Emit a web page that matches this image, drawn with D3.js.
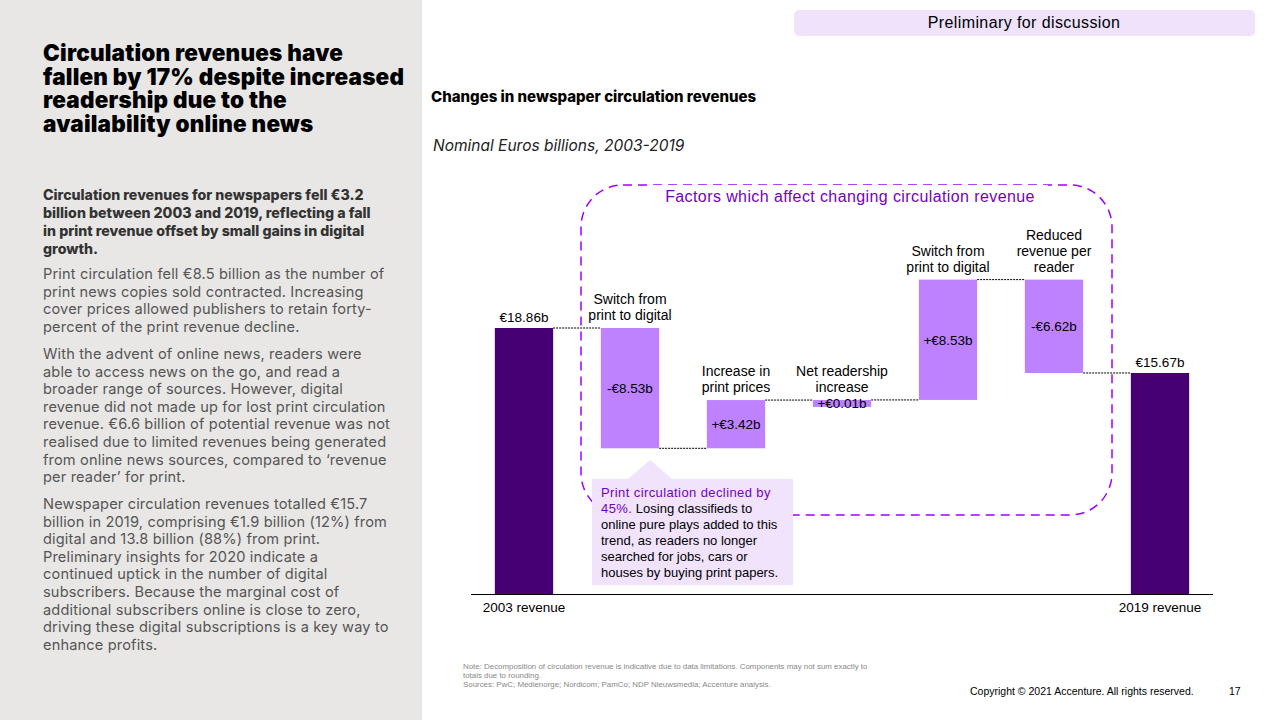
<!DOCTYPE html>
<html><head><meta charset="utf-8">
<script src="https://cdn.jsdelivr.net/npm/d3@7"></script>
<style>
body{margin:0;font-family:Arial,"Liberation Sans",sans-serif;}
svg{display:block}
</style></head>
<body><svg width="1280" height="720"></svg>
<script>
// waterfall data
const steps = ["2003 revenue", "Switch from print to digital (print)", "Increase in print prices", "Net readership increase", "Switch from print to digital", "Reduced revenue per reader", "2019 revenue"];
const stepLabels = [[], ["Switch from", "print to digital"], ["Increase in", "print prices"], ["Net readership", "increase"], ["Switch from", "print to digital"], ["Reduced", "revenue per", "reader"], []];
const deltas = [18.86, -8.53, 3.42, 0.01, 8.53, -6.62, 15.67];
const valueLabels = ["€18.86b", "-€8.53b", "+€3.42b", "+€0.01b", "+€8.53b", "-€6.62b", "€15.67b"];
const totals = [true, false, false, false, false, false, true];

const svg = d3.select("svg");
const purpleDark = "#460073", purpleLight = "#be82ff";

// left panel
svg.append("rect").attr("width", 422).attr("height", 720).attr("fill", "#e8e7e5");
const title = ["Circulation revenues have", "fallen by 17% despite increased", "readership due to the", "availability online news"];
svg.append("text").attr("font-family", "Inter").attr("font-weight", 900).attr("font-size", 22.5).attr("letter-spacing", 0.2).attr("fill", "#000")
  .selectAll("tspan").data(title).join("tspan").attr("x", 43).attr("y", (d, i) => 61 + i * 23.5).text(d => d);
const lead = ["Circulation revenues for newspapers fell €3.2", "billion between 2003 and 2019, reflecting a fall", "in print revenue offset by small gains in digital", "growth."];
svg.append("text").attr("font-family", "Inter").attr("font-weight", 800).attr("font-size", 14.2).attr("fill", "#333")
  .selectAll("tspan").data(lead).join("tspan").attr("x", 43).attr("y", (d, i) => 200 + i * 18).text(d => d);
const paras = [
  [279, ["Print circulation fell €8.5 billion as the number of", "print news copies sold contracted. Increasing", "cover prices allowed publishers to retain forty-", "percent of the print revenue decline."]],
  [359, ["With the advent of online news, readers were", "able to access news on the go, and read a", "broader range of sources. However, digital", "revenue did not made up for lost print circulation", "revenue. €6.6 billion of potential revenue was not", "realised due to limited revenues being generated", "from online news sources, compared to ‘revenue", "per reader’ for print."]],
  [509, ["Newspaper circulation revenues totalled €15.7", "billion in 2019, comprising €1.9 billion (12%) from", "digital and 13.8 billion (88%) from print.", "Preliminary insights for 2020 indicate a", "continued uptick in the number of digital", "subscribers. Because the marginal cost of", "additional subscribers online is close to zero,", "driving these digital subscriptions is a key way to", "enhance profits."]]
];
paras.forEach(([y0, lines]) => {
  svg.append("text").attr("font-family", "Inter").attr("font-size", 14.6).attr("letter-spacing", 0.15).attr("fill", "#555")
    .selectAll("tspan").data(lines).join("tspan").attr("x", 43).attr("y", (d, i) => y0 + i * 17.6).text(d => d);
});

// header pill
svg.append("rect").attr("x", 794).attr("y", 10).attr("width", 461).attr("height", 26).attr("rx", 5).attr("fill", "#efe3fb");
svg.append("text").attr("x", 1024).attr("y", 28).attr("text-anchor", "middle").attr("font-size", 16).attr("letter-spacing", 0.4).attr("fill", "#000").text("Preliminary for discussion");

svg.append("text").attr("x", 431).attr("y", 102).attr("font-family", "Inter").attr("font-weight", 800).attr("font-size", 15).text("Changes in newspaper circulation revenues");
svg.append("text").attr("x", 433).attr("y", 151).attr("font-family", "Inter").attr("font-style", "italic").attr("font-size", 15.5).attr("fill", "#222").text("Nominal Euros billions, 2003-2019");

// scales
const x = d3.scaleBand().domain(steps).range([471, 1213]).paddingInner(0.45).paddingOuter(0.225);
const y = d3.scaleLinear().domain([0, 18.86]).range([594, 328]);

let run = 0;
const bars = steps.map((s, i) => {
  let lo, hi;
  if (totals[i]) { lo = 0; hi = deltas[i]; run = deltas[i]; }
  else { const prev = run; run += deltas[i]; lo = Math.min(prev, run); hi = Math.max(prev, run); }
  return { s, i, lo, hi, end: run };
});

// dashed factor box
svg.append("rect").attr("x", 581).attr("y", 185).attr("width", 531).attr("height", 330).attr("rx", 42)
  .attr("fill", "none").attr("stroke", "#a100ff").attr("stroke-width", 1.5).attr("stroke-dasharray", "9,6");
svg.append("rect").attr("x", 652).attr("y", 185).attr("width", 396).attr("height", 22).attr("fill", "#fff");
svg.append("text").attr("x", 850).attr("y", 202).attr("text-anchor", "middle").attr("font-size", 16).attr("fill", "#7500c0")
  .attr("letter-spacing", 0.4).text("Factors which affect changing circulation revenue");

// connectors
bars.slice(0, -1).forEach((b, i) => {
  svg.append("line").attr("x1", x(b.s) + x.bandwidth()).attr("x2", x(steps[i + 1]))
    .attr("y1", y(b.end)).attr("y2", y(b.end)).attr("stroke", "#000").attr("stroke-width", 1).attr("stroke-dasharray", "2,1");
});

svg.selectAll("rect.bar").data(bars).join("rect").attr("class", "bar")
  .attr("x", d => x(d.s)).attr("width", x.bandwidth())
  .attr("y", d => y(d.hi)).attr("height", d => Math.max(7, y(d.lo) - y(d.hi)))
  .attr("fill", d => totals[d.i] ? purpleDark : purpleLight);

// value labels
bars.forEach(d => {
  const cx = x(d.s) + x.bandwidth() / 2;
  const ty = totals[d.i] ? y(d.hi) - 6 : (y(d.hi) + Math.max(7, y(d.lo) - y(d.hi)) / 2 + 5);
  svg.append("text").attr("x", cx).attr("y", ty).attr("text-anchor", "middle").attr("font-size", 13.5).attr("fill", "#000").text(valueLabels[d.i]);
  const lines = stepLabels[d.i];
  svg.append("text").attr("font-size", 14).attr("text-anchor", "middle").attr("fill", "#000")
    .selectAll("tspan").data(lines).join("tspan").attr("x", cx).attr("y", (t, k) => y(d.hi) - 8 - (lines.length - 1 - k) * 16).text(t => t);
});

// axis
svg.append("line").attr("x1", 471).attr("x2", 1213).attr("y1", 594.5).attr("y2", 594.5).attr("stroke", "#000");
[0, 6].forEach(i => svg.append("text").attr("x", x(steps[i]) + x.bandwidth() / 2).attr("y", 612).attr("text-anchor", "middle").attr("font-size", 13.5).text(steps[i]));

// callout
svg.append("path").attr("d", "M628,479 L650,460 L672,479 Z").attr("fill", "#f0e3fb");
svg.append("rect").attr("x", 592).attr("y", 479).attr("width", 201).attr("height", 106).attr("fill", "#f0e3fb");
const callout = [["Print circulation declined by", "#7500c0"], ["45%.", "#7500c0", " Losing classifieds to"], ["online pure plays added to this"], ["trend, as readers no longer"], ["searched for jobs, cars or"], ["houses by buying print papers."]];
callout.forEach((l, i) => {
  const t = svg.append("text").attr("x", 601).attr("y", 497 + i * 16).attr("font-size", 13).attr("fill", "#000");
  t.append("tspan").attr("fill", l[1] || "#000").attr("letter-spacing", l[1] ? 0.4 : 0).text(l[0]);
  if (l[2]) t.append("tspan").text(l[2]);
});

// footer
const note = ["Note: Decomposition of circulation revenue is indicative due to data limitations. Components may not sum exactly to", "totals due to rounding.", "Sources: PwC; Medienorge; Nordicom; PamCo;  NDP Nieuwsmedia; Accenture analysis."];
svg.append("text").attr("font-size", 7.9).attr("fill", "#888").selectAll("tspan").data(note).join("tspan")
  .attr("x", 463).attr("y", (d, i) => 669 + i * 9).text(d => d);
svg.append("text").attr("x", 970).attr("y", 695).attr("font-size", 10.5).attr("fill", "#000").text("Copyright © 2021 Accenture. All rights reserved.");
svg.append("text").attr("x", 1229).attr("y", 695).attr("font-size", 10.5).attr("fill", "#000").text("17");
</script></body></html>
